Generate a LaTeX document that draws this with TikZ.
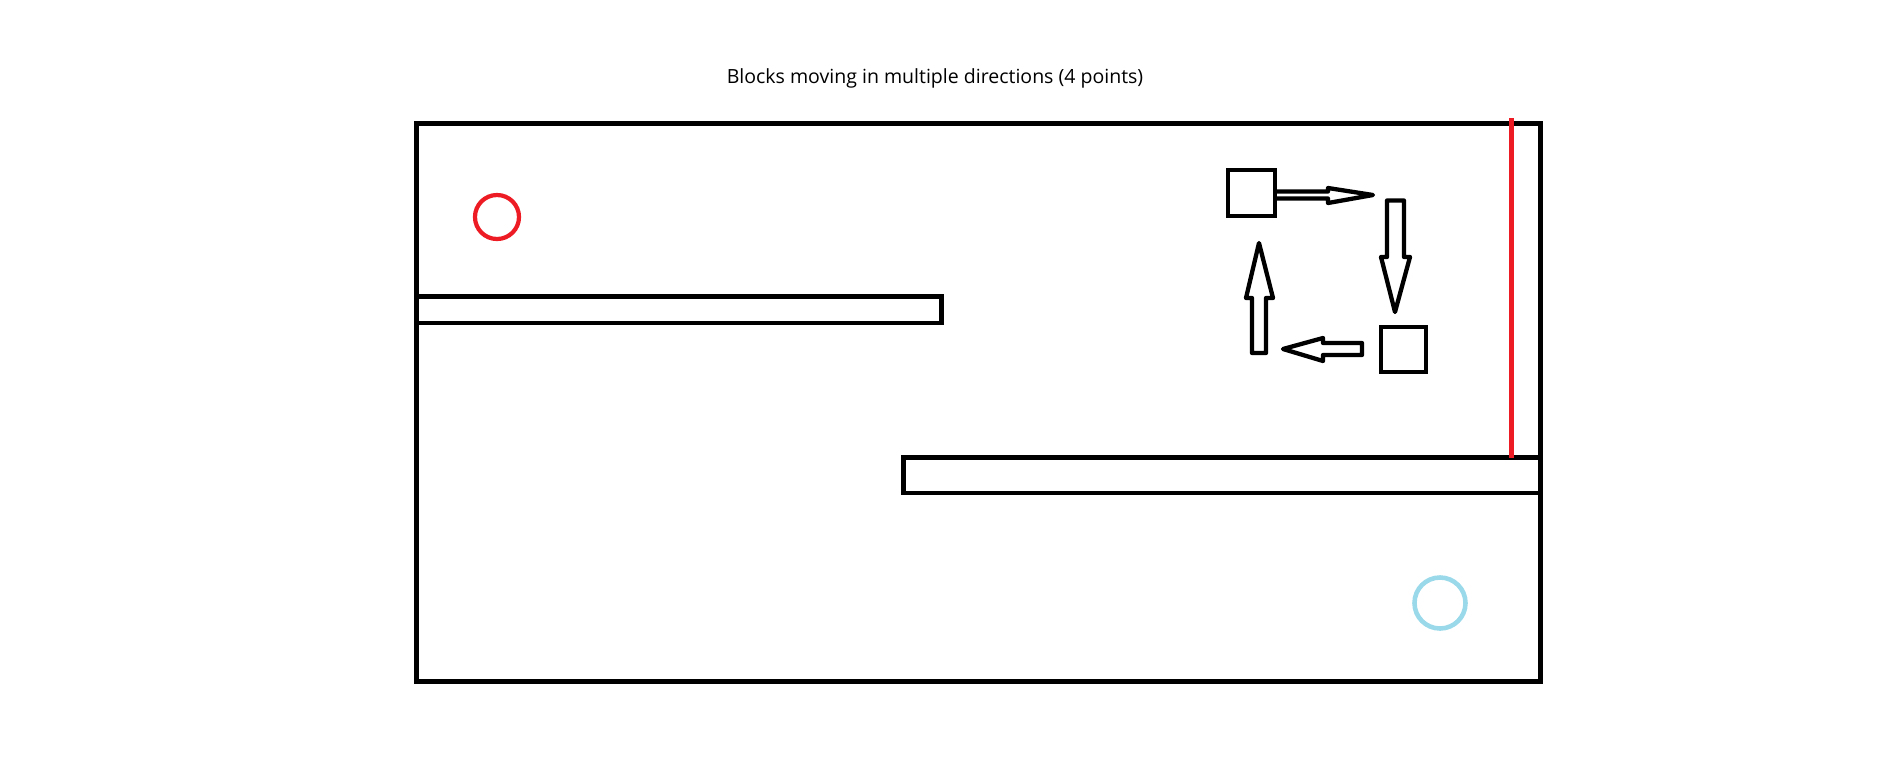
\documentclass[tikz,border=0pt]{standalone}
\usepackage{fontspec}
\newfontfamily\titlefont{Open Sans}
\definecolor{paintred}{RGB}{237,28,36}
\definecolor{paintblue}{RGB}{153,217,234}

\begin{document}
\begin{tikzpicture}[x=0.01cm, y=-0.01cm,
	wall/.style={line width=1.34pt},
	block/.style={line width=1.2pt},
	blockarrow/.style={line width=1.22pt, line join=round}]
			\useasboundingbox (0,0) rectangle (1896,778);
			\node[anchor=base, font=\titlefont\fontsize{5.55}{6.5}\selectfont] (title) at (935,83) {Blocks moving in multiple directions (4 points)};
			\draw[wall] (416.5,123.5) rectangle (1540.5,681.5);
			\draw[wall] (416.5,296.5) rectangle (941.5,323);
			\draw[wall] (903.5,457.5) rectangle (1540.5,493);
			\draw[line width=1.22pt, color=paintred] (1511.5,118) -- (1511.5,458);
			\draw[line width=1.2pt, color=paintred] (497,217) circle (0.22cm);
			\draw[line width=1.3pt, color=paintblue] (1440,603) circle (0.255cm);
			\draw[block] (1228,170) rectangle (1275,216);
			\draw[block] (1381,327) rectangle (1426,372);
			\draw[blockarrow] (1277,191.5) -- (1328,191.5) -- (1328,188) -- (1373,195) -- (1328,203) -- (1328,198.5) -- (1277,198.5);
			\draw[blockarrow] (1387,200.5) -- (1404,200.5) -- (1404,257) -- (1410,257) -- (1395,312) -- (1381,257) -- (1387,257) -- cycle;
			\draw[blockarrow] (1362,343) -- (1323,343) -- (1323,338) -- (1283,349) -- (1323,361) -- (1323,355) -- (1362,355) -- cycle;
			\draw[blockarrow] (1252,353) -- (1266,353) -- (1266,298) -- (1273,298) -- (1259,243) -- (1246,298) -- (1252,298) -- cycle;
		\end{tikzpicture}
\end{document}
